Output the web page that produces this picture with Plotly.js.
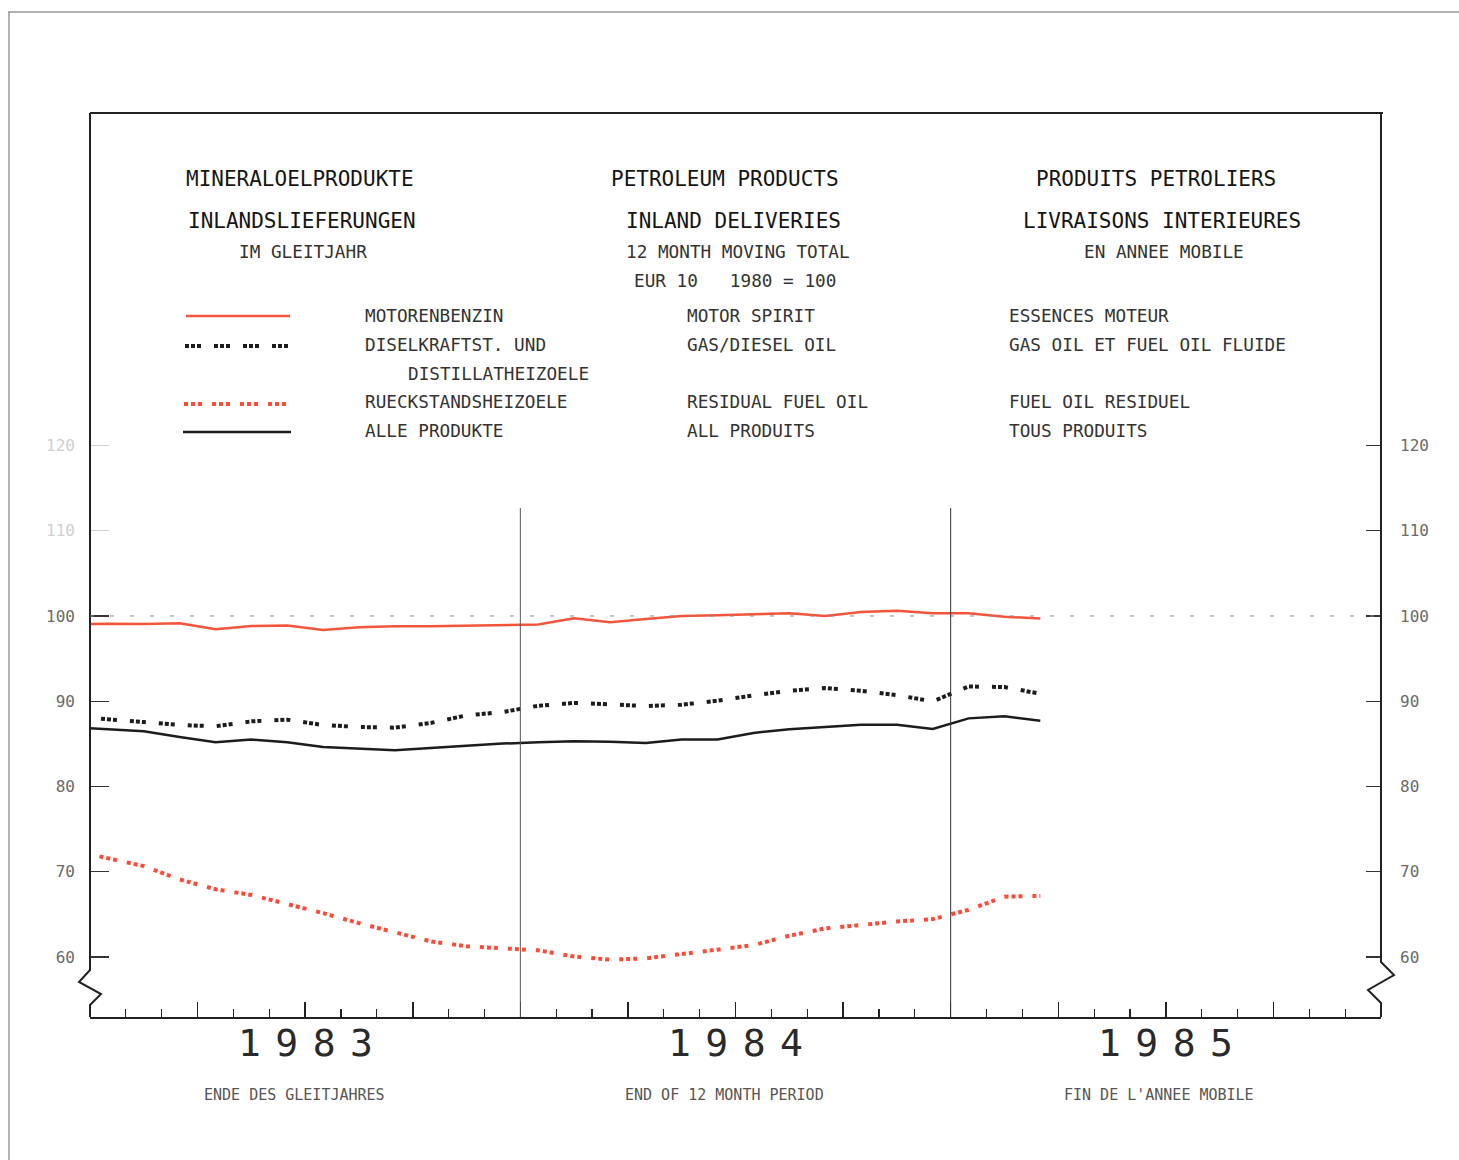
<!DOCTYPE html>
<html>
<head>
<meta charset="utf-8">
<script src="https://cdn.plot.ly/plotly-3.0.1.min.js"></script>
<style>
  html, body { margin: 0; padding: 0; background: #ffffff; }
  #chart { width: 1459px; height: 1160px; }
</style>
</head>
<body>
<div id="chart"></div>
<script>
// ---- data: 12 month moving totals, EUR 10, 1980 = 100 ----
// month index: 0 = January 1983 ; points are plotted at mid-month
const monthIndex = [-1, 0, 1, 2, 3, 4, 5, 6, 7, 8, 9, 10, 11, 12, 13, 14, 15, 16, 17, 18, 19, 20, 21, 22, 23, 24, 25, 26];
const motorSpirit = [99.0, 99.1, 99.06, 99.14, 98.44, 98.83, 98.87, 98.36, 98.67, 98.79, 98.79, 98.83, 98.87, 98.99,
                     99.73, 99.26, 99.65, 100.0, 100.08, 100.23, 100.31, 100.0, 100.47, 100.62, 100.31, 100.31, 99.92, 99.69];
const gasDieselOil = [88.2, 87.91, 87.56, 87.21, 87.06, 87.64, 87.84, 87.21, 86.98, 86.90, 87.45, 88.34, 88.73, 89.47,
                      89.8, 89.63, 89.43, 89.59, 90.06, 90.68, 91.23, 91.54, 91.23, 90.72, 89.98, 91.73, 91.66, 90.88];
const residualFuelOil = [72.5, 71.56, 70.66, 69.1, 67.94, 67.28, 66.23, 65.14, 63.97, 62.88, 61.83, 61.25, 61.01, 60.78,
                         60.05, 59.69, 59.84, 60.31, 60.86, 61.4, 62.49, 63.35, 63.81, 64.16, 64.44, 65.53, 67.08, 67.16];
const allProducts = [86.95, 86.74, 86.47, 85.81, 85.19, 85.50, 85.19, 84.64, 84.44, 84.25, 84.52, 84.80, 85.03, 85.19,
                     85.30, 85.26, 85.11, 85.50, 85.50, 86.28, 86.71, 86.98, 87.25, 87.25, 86.74, 87.99, 88.23, 87.72];
const yearLabels = ['1983', '1984', '1985'];
const yearCentres = [6, 18, 30];
const yTicksMain = [60, 70, 80, 90, 100];
const yTicksFaint = [110, 120];
const yTicksRight = [60, 70, 80, 90, 100, 110, 120];

// ---- styling ----
const RED = '#f2553c';
const RED_DOT = '#ff4a3a';
const BLACK = '#1c1c1c';
const DOTS_BLACK = '4px,2px,4px,2px,4px,13px';
const DOTS_RED = '4px,3px,4px,3px,4px,10px';
const MONO = 'DejaVu Sans Mono, monospace';

const W = 1459, H = 1160;
const L = 90, R = 1381, T = 113, B = 1017;
const px = X => (X - L) / (R - L);
const py = Y => (B - Y) / (B - T);
const yRange = [52.96, 159.0];

const xMid = monthIndex.map(m => m + 0.5);

const traces = [
  {x: xMid, y: motorSpirit, mode: 'lines', line: {color: RED, width: 2.5}, name: 'MOTORENBENZIN', hoverinfo: 'skip'},
  {x: xMid, y: gasDieselOil, mode: 'lines', line: {color: BLACK, width: 4, dash: DOTS_BLACK}, name: 'DISELKRAFTST. UND DISTILLATHEIZOELE', hoverinfo: 'skip'},
  {x: xMid, y: residualFuelOil, mode: 'lines', line: {color: RED_DOT, width: 4, dash: DOTS_RED}, name: 'RUECKSTANDSHEIZOELE', hoverinfo: 'skip'},
  {x: xMid, y: allProducts, mode: 'lines', line: {color: BLACK, width: 2.5}, name: 'ALLE PRODUKTE', hoverinfo: 'skip'},
  {x: [], y: [], yaxis: 'y2', mode: 'lines', showlegend: false, hoverinfo: 'skip'},
  {x: [], y: [], yaxis: 'y3', mode: 'lines', showlegend: false, hoverinfo: 'skip'}
];

function pathPx(points) {
  return points.map((p, i) => (i === 0 ? 'M' : 'L') + px(p[0]).toFixed(5) + ',' + py(p[1]).toFixed(5)).join(' ');
}

const shapes = [
  // page edge
  {type: 'line', xref: 'paper', yref: 'paper', x0: px(8), x1: px(1459), y0: py(12), y1: py(12), line: {color: '#9a9a9a', width: 1.5}},
  {type: 'line', xref: 'paper', yref: 'paper', x0: px(9), x1: px(9), y0: py(12), y1: py(1160), line: {color: '#9a9a9a', width: 1.5}},
  // frame top
  {type: 'line', xref: 'paper', yref: 'paper', x0: px(90), x1: px(1383), y0: 1, y1: 1, line: {color: '#222', width: 2}},
  // left axis with break
  {type: 'path', xref: 'paper', yref: 'paper', path: pathPx([[90, 113], [90, 970], [79, 982], [101, 994], [90, 1005], [90, 1017]]), line: {color: '#222', width: 2}},
  // right axis with break
  {type: 'path', xref: 'paper', yref: 'paper', path: pathPx([[1381, 113], [1381, 962], [1394, 975], [1368, 990], [1381, 1003], [1381, 1017]]), line: {color: '#222', width: 2}},
  // 100 reference line
  {type: 'line', xref: 'paper', yref: 'y', x0: 0, x1: 1, y0: 100, y1: 100, line: {color: '#8a8a8a', width: 1, dash: '4px,16px'}},
  // year separators
  {type: 'line', xref: 'x', yref: 'paper', x0: 12, x1: 12, y0: 0, y1: py(508), line: {color: '#555', width: 1}},
  {type: 'line', xref: 'x', yref: 'paper', x0: 24, x1: 24, y0: 0, y1: py(508), line: {color: '#333', width: 1}},
  // legend samples
  {type: 'line', xref: 'paper', yref: 'paper', x0: px(186), x1: px(290), y0: py(316), y1: py(316), line: {color: RED, width: 2.5}},
  {type: 'line', xref: 'paper', yref: 'paper', x0: px(185), x1: px(292), y0: py(346), y1: py(346), line: {color: BLACK, width: 4, dash: DOTS_BLACK}},
  {type: 'line', xref: 'paper', yref: 'paper', x0: px(184), x1: px(290), y0: py(404), y1: py(404), line: {color: RED_DOT, width: 4, dash: DOTS_RED}},
  {type: 'line', xref: 'paper', yref: 'paper', x0: px(183), x1: px(291), y0: py(432), y1: py(432), line: {color: BLACK, width: 2.5}}
];

function txt(X, Y, text, size, color, anchor) {
  return {xref: 'paper', yref: 'paper', x: px(X), y: py(Y), text: text, showarrow: false,
          xanchor: anchor || 'left', yanchor: 'middle',
          font: {family: MONO, size: size, color: color}};
}
const HEAD = 21, SMALL = 17.7, HC = '#151515', SC = '#333';

const annotations = [
  txt(184, 179, 'MINERALOELPRODUKTE', HEAD, HC),
  txt(186, 221, 'INLANDSLIEFERUNGEN', HEAD, HC),
  txt(237, 252, 'IM GLEITJAHR', SMALL, SC),
  txt(609, 179, 'PETROLEUM PRODUCTS', HEAD, HC),
  txt(624, 221, 'INLAND DELIVERIES', HEAD, HC),
  txt(624, 252, '12 MONTH MOVING TOTAL', SMALL, SC),
  txt(632, 281, 'EUR 10   1980 = 100', SMALL, SC),
  txt(1034, 179, 'PRODUITS PETROLIERS', HEAD, HC),
  txt(1021, 221, 'LIVRAISONS INTERIEURES', HEAD, HC),
  txt(1082, 252, 'EN ANNEE MOBILE', SMALL, SC),

  txt(363, 316, 'MOTORENBENZIN', SMALL, SC),
  txt(363, 345, 'DISELKRAFTST. UND', SMALL, SC),
  txt(406, 374, 'DISTILLATHEIZOELE', SMALL, SC),
  txt(363, 402, 'RUECKSTANDSHEIZOELE', SMALL, SC),
  txt(363, 431, 'ALLE PRODUKTE', SMALL, SC),

  txt(685, 316, 'MOTOR SPIRIT', SMALL, SC),
  txt(685, 345, 'GAS/DIESEL OIL', SMALL, SC),
  txt(685, 402, 'RESIDUAL FUEL OIL', SMALL, SC),
  txt(685, 431, 'ALL PRODUITS', SMALL, SC),

  txt(1007, 316, 'ESSENCES MOTEUR', SMALL, SC),
  txt(1007, 345, 'GAS OIL ET FUEL OIL FLUIDE', SMALL, SC),
  txt(1007, 402, 'FUEL OIL RESIDUEL', SMALL, SC),
  txt(1007, 431, 'TOUS PRODUITS', SMALL, SC),

  txt(294, 1095, 'ENDE DES GLEITJAHRES', 15, '#555', 'center'),
  txt(724, 1095, 'END OF 12 MONTH PERIOD', 15, '#555', 'center'),
  txt(1159, 1095, "FIN DE L'ANNEE MOBILE", 15, '#555', 'center')
];

yearLabels.forEach((lab, i) => {
  const spaced = lab.split('').join("<span style='font-size:24px'> </span>");
  annotations.push({xref: 'x', yref: 'paper', x: yearCentres[i], y: py(1043), text: spaced, showarrow: false,
                    xanchor: 'center', yanchor: 'middle', font: {family: MONO, size: 38, color: '#2a2a2a'}});
});

const layout = {
  width: W, height: H, autosize: false,
  margin: {l: L, r: W - R, t: T, b: H - B, pad: 0},
  paper_bgcolor: '#ffffff', plot_bgcolor: '#ffffff',
  showlegend: false,
  xaxis: {
    range: [0, 36], showgrid: false, zeroline: false,
    showline: true, linecolor: '#222', linewidth: 2,
    ticks: 'inside', tick0: 0, dtick: 3, ticklen: 15, tickwidth: 1.5, tickcolor: '#222',
    minor: {ticks: 'inside', dtick: 1, tick0: 0, ticklen: 8, tickwidth: 1.2, tickcolor: '#222'},
    showticklabels: false, fixedrange: true
  },
  yaxis: {
    range: yRange, showgrid: false, zeroline: false, showline: false,
    tickmode: 'array', tickvals: yTicksMain,
    ticks: 'inside', ticklen: 19, tickwidth: 1.2, tickcolor: '#333',
    ticklabelstandoff: 14,
    tickfont: {family: MONO, size: 16, color: '#6a6a6a'}, automargin: false, fixedrange: true
  },
  yaxis3: {
    range: yRange, overlaying: 'y', side: 'left', anchor: 'x',
    showgrid: false, zeroline: false, showline: false,
    tickmode: 'array', tickvals: yTicksFaint,
    ticks: 'inside', ticklen: 19, tickwidth: 1, tickcolor: '#cfcfcf',
    ticklabelstandoff: 14,
    tickfont: {family: MONO, size: 16, color: '#cfcfcf'}, automargin: false, fixedrange: true
  },
  yaxis2: {
    range: yRange, overlaying: 'y', side: 'right', anchor: 'x',
    showgrid: false, zeroline: false, showline: false,
    tickmode: 'array', tickvals: yTicksRight,
    ticks: 'inside', ticklen: 15, tickwidth: 1.2, tickcolor: '#333',
    ticklabelstandoff: 18,
    tickfont: {family: MONO, size: 16, color: '#6a6a6a'}, automargin: false, fixedrange: true
  },
  shapes: shapes,
  annotations: annotations
};

Plotly.newPlot('chart', traces, layout, {staticPlot: true, displayModeBar: false});
</script>
</body>
</html>
